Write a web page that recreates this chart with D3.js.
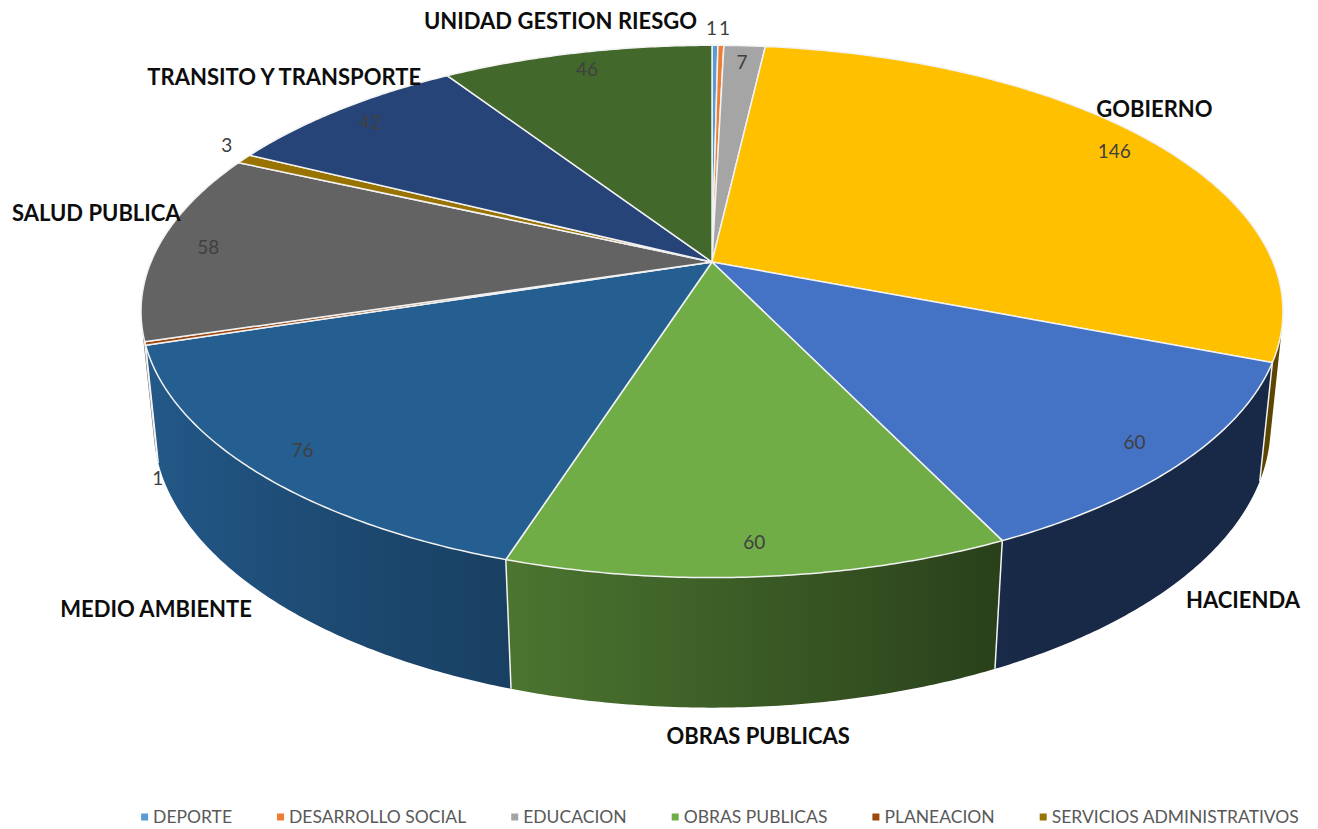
<!DOCTYPE html>
<html>
<head>
<meta charset="utf-8">
<script src="https://cdn.jsdelivr.net/npm/d3@7"></script>
<style>
body { margin: 0; background: #ffffff; }
svg { display: block; font-family: Lato, "Open Sans", sans-serif; }
</style>
</head>
<body>
<div id="chart"></div>
<script>
// slices, clockwise from 12 o'clock
var categories = ["DEPORTE", "DESARROLLO SOCIAL", "EDUCACION", "GOBIERNO", "HACIENDA",
    "OBRAS PUBLICAS", "MEDIO AMBIENTE", "PLANEACION", "SALUD PUBLICA",
    "SERVICIOS ADMINISTRATIVOS", "TRANSITO Y TRANSPORTE", "UNIDAD GESTION RIESGO"];
var values = [1, 1, 7, 146, 60, 60, 76, 1, 58, 3, 42, 46];
var sliceColors = ["#5B9BD5", "#ED7D31", "#A5A5A5", "#FFC000", "#4472C4", "#70AD47",
    "#255E91", "#9E480E", "#636363", "#997300", "#264478", "#43682B"];
// slices that carry a category name label
var namedSlices = ["GOBIERNO", "HACIENDA", "OBRAS PUBLICAS", "MEDIO AMBIENTE",
    "SALUD PUBLICA", "TRANSITO Y TRANSPORTE", "UNIDAD GESTION RIESGO"];
// entries kept in the legend
var legendItems = ["DEPORTE", "DESARROLLO SOCIAL", "EDUCACION", "OBRAS PUBLICAS",
    "PLANEACION", "SERVICIOS ADMINISTRATIVOS"];

var width = 1318;
var height = 829;
var cx = 712;
var cy = 262;
var camDist = 4.8;
var tilt = rad(26.9);
var fx = 2693;
var fy = 2726;
var thickness = 0.228;

function rad(deg) {
    "use strict";
    return deg / 180 * Math.PI;
}

// perspective projection of a point on the pie (theta clockwise from the back)
function project(theta, r, y) {
    "use strict";
    var X = r * Math.sin(theta);
    var Z = r * Math.cos(theta);
    var depth = camDist + Z * Math.cos(tilt) - y * Math.sin(tilt);
    return [cx + fx * X / depth,
        cy - fy * (y * Math.cos(tilt) + Z * Math.sin(tilt)) / depth];
}

function arcPoints(a0, a1, y) {
    "use strict";
    var n = Math.max(2, Math.ceil((a1 - a0) / rad(0.5)));
    var pts = [];
    for (var i = 0; i <= n; i++) {
        pts.push(project(a0 + (a1 - a0) * i / n, 1, y));
    }
    return pts;
}

function shade(color, theta) {
    "use strict";
    // light comes from the left
    var f = Math.max(0.36, 0.55 - 0.42 * Math.sin(theta));
    var c = d3.rgb(color);
    return d3.rgb(c.r * f, c.g * f, c.b * f).formatHex();
}

function drawChart() {
    "use strict";
    var svg = d3.select("#chart")
        .append("svg")
        .attr("width", width)
        .attr("height", height);

    svg.append("rect")
        .attr("width", width)
        .attr("height", height)
        .attr("fill", "#ffffff");

    var defs = svg.append("defs");

    var data = categories.map(function(c, i) {
        return {name: c, value: values[i], color: sliceColors[i]};
    });
    var arcs = d3.pie()
        .sort(null)
        .value(function(d) { return d.value; })
        .startAngle(0)
        .endAngle(2 * Math.PI)(data);

    var line = d3.line();
    var visLo = Math.acos(-1 / (camDist * Math.cos(tilt)));
    var visHi = 2 * Math.PI - visLo;

    // outer walls, one gradient per slice
    var walls = svg.append("g");
    arcs.forEach(function(d, idx) {
        var lo = Math.max(d.startAngle, visLo);
        var hi = Math.min(d.endAngle, visHi);
        if (hi <= lo) { return; }
        var top = arcPoints(lo, hi, 0);
        var bottom = arcPoints(lo, hi, -thickness).reverse();
        var xs = top.concat(bottom).map(function(p) { return p[0]; });
        var x1 = d3.min(xs);
        var x2 = d3.max(xs);
        var grad = defs.append("linearGradient")
            .attr("id", "wall" + idx)
            .attr("gradientUnits", "userSpaceOnUse")
            .attr("x1", x1).attr("y1", 0)
            .attr("x2", x2).attr("y2", 0);
        var stops = [];
        for (var i = 0; i <= 12; i++) {
            var t = lo + (hi - lo) * i / 12;
            var px = project(t, 1, 0)[0];
            stops.push({off: x2 > x1 ? (px - x1) / (x2 - x1) : 0, col: shade(d.data.color, t)});
        }
        stops.sort(function(a, b) { return a.off - b.off; });
        stops.forEach(function(s) {
            grad.append("stop")
                .attr("offset", Math.max(0, Math.min(1, s.off)))
                .attr("stop-color", s.col);
        });
        walls.append("path")
            .attr("d", line(top.concat(bottom)) + "Z")
            .attr("fill", "url(#wall" + idx + ")");
    });
    arcs.forEach(function(d) {
        var a = d.startAngle;
        if (a > visLo && a < visHi) {
            var p0 = project(a, 1, 0);
            var p1 = project(a, 1, -thickness);
            walls.append("line")
                .attr("x1", p0[0]).attr("y1", p0[1])
                .attr("x2", p1[0]).attr("y2", p1[1])
                .attr("stroke", "#f2f2f2")
                .attr("stroke-width", 1.5);
        }
    });

    // top faces
    svg.append("g")
        .selectAll("path")
        .data(arcs)
        .enter()
        .append("path")
        .attr("d", function(d) {
            return line([project(0, 0, 0)].concat(
                arcPoints(d.startAngle, d.endAngle, 0))) + "Z";
        })
        .attr("fill", function(d) { return d.data.color; })
        .attr("stroke", "#f2f2f2")
        .attr("stroke-width", 1.5)
        .attr("stroke-linejoin", "round");

    // value labels
    var valueLabels = arcs.map(function(d) {
        var mid = (d.startAngle + d.endAngle) / 2;
        var p;
        if (d.data.value >= 5) {
            p = project(mid, 0.91, 0);
        } else if (Math.cos(mid) > 0) {
            p = project(mid, 1.04, 0);
            p[1] -= 10;
        } else {
            p = project(mid, 1, -thickness);
            p[1] += 17;
        }
        return {x: p[0], y: p[1], text: String(d.data.value)};
    });
    // push apart labels that sit on each other
    var sorted = valueLabels.slice().sort(function(a, b) { return a.x - b.x; });
    for (var i = 1; i < sorted.length; i++) {
        var a = sorted[i - 1];
        var b = sorted[i];
        if (Math.abs(a.y - b.y) < 16 && b.x - a.x < 13) {
            var m = (a.x + b.x) / 2;
            a.x = m - 6.5;
            b.x = m + 6.5;
        }
    }
    var valueText = svg.append("g")
        .selectAll("text")
        .data(valueLabels)
        .enter()
        .append("text")
        .attr("x", function(d) { return d.x; })
        .attr("y", function(d) { return d.y; })
        .attr("dy", "0.36em")
        .attr("text-anchor", "middle")
        .attr("font-size", 19)
        .attr("fill", "#404040")
        .text(function(d) { return d.text; });
    var valueBoxes = [];
    valueText.each(function(d) {
        var w = this.getComputedTextLength();
        valueBoxes.push({x0: d.x - w / 2 - 9, x1: d.x + w / 2 + 9, y0: d.y - 9, y1: d.y + 9});
    });

    // category labels
    var topPoly = arcPoints(0, 2 * Math.PI, 0);
    var catSize = 22;
    var capH = catSize * 0.72;
    var catGroup = svg.append("g");
    arcs.filter(function(d) {
        return namedSlices.indexOf(d.data.name) >= 0;
    }).forEach(function(d) {
        var mid = (d.startAngle + d.endAngle) / 2;
        var txt = catGroup.append("text")
            .attr("font-size", catSize)
            .attr("font-weight", "bold")
            .attr("fill", "#0d0d0d")
            .attr("dy", "0.36em")
            .text(d.data.name);
        var w = txt.node().getComputedTextLength();
        var x, y, anchor = "middle";
        var dir = Math.sin(mid) >= 0 ? 1 : -1;
        if (Math.cos(mid) >= 0) {
            var rim = project(mid, 1, 0);
            x = rim[0];
            y = rim[1] - 32;
            var hits = function() {
                for (var s = x - w / 2; s <= x + w / 2; s += 4) {
                    if (d3.polygonContains(topPoly, [s, y + capH / 2 - 3])) {
                        return true;
                    }
                }
                return valueBoxes.some(function(b) {
                    return b.x0 < x + w / 2 && b.x1 > x - w / 2 &&
                        b.y0 < y + capH / 2 && b.y1 > y - capH / 2;
                });
            };
            var guard = 0;
            while (hits() && guard < 150) {
                x += dir * 2;
                guard++;
            }
            x = Math.max(12 + w / 2, Math.min(width - 9 - w / 2, x));
        } else {
            var bot = project(mid, 1, -thickness);
            if (Math.abs(Math.sin(mid)) < 0.3) {
                x = bot[0];
                y = bot[1] + 29;
            } else {
                x = bot[0] + dir * 15;
                y = bot[1] + 13;
                anchor = dir > 0 ? "start" : "end";
            }
        }
        txt.attr("x", x).attr("y", y).attr("text-anchor", anchor);
    });

    // legend
    var legend = svg.append("g");
    var legendY = 817;
    var gap = 45;
    var items = legendItems.map(function(name) {
        var t = legend.append("text")
            .attr("font-size", 17.5)
            .attr("fill", "#595959")
            .attr("dy", "0.36em")
            .attr("y", legendY)
            .text(name);
        return {name: name, node: t, w: t.node().getComputedTextLength()};
    });
    var total = d3.sum(items, function(d) { return d.w + 12; }) + gap * (items.length - 1);
    var lx = 720 - total / 2;
    items.forEach(function(it) {
        legend.append("rect")
            .attr("x", lx)
            .attr("y", legendY - 3.5)
            .attr("width", 7)
            .attr("height", 7)
            .attr("fill", sliceColors[categories.indexOf(it.name)]);
        it.node.attr("x", lx + 12);
        lx += 12 + it.w + gap;
    });
}

drawChart();
</script>
</body>
</html>
